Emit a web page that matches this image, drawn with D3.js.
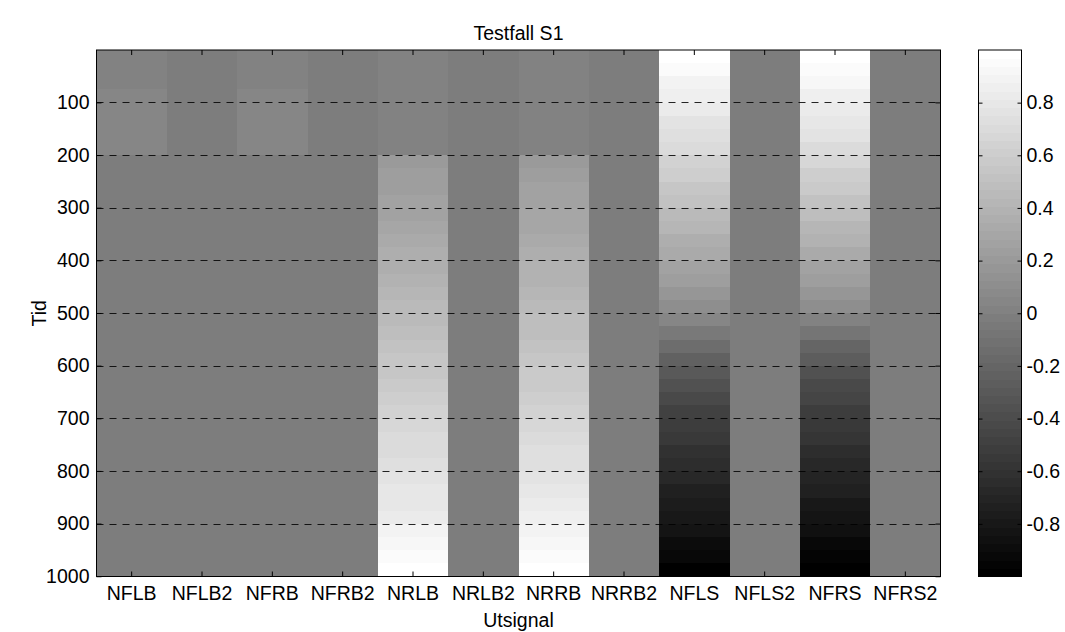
<!DOCTYPE html>
<html>
<head>
<meta charset="utf-8">
<script src="https://cdn.jsdelivr.net/npm/d3@7"></script>
<style>
  html, body { margin: 0; padding: 0; background: #fff; }
  svg { display: block; }
  text { font-family: "Liberation Sans", Arial, Helvetica, sans-serif; fill: #000; }
</style>
</head>
<body>
<svg id="chart" width="1065" height="632"></svg>
<script>
// Output signals (columns of the image)
const signals = ["NFLB", "NFLB2", "NFRB", "NFRB2", "NRLB", "NRLB2",
                 "NRRB", "NRRB2", "NFLS", "NFLS2", "NFRS", "NFRS2"];

// Each value covers a block of 25 time steps, starting at step 1
const blockSize = 25;

const NFLB  = [0.01,0.02,0.02,0.04,0.04,0.05,0.06,0.06,
               -0.01,-0.01,-0.01,-0.01,-0.01,-0.01,-0.01,-0.01, -0.01,-0.01,-0.01,-0.01,-0.01,-0.01,-0.01,-0.01,
               -0.01,-0.01,-0.01,-0.01,-0.01,-0.01,-0.01,-0.01, -0.01,-0.01,-0.01,-0.01,-0.01,-0.01,-0.01,-0.01];
const NFLB2 = [-0.01,-0.01,-0.01,-0.01,-0.01,-0.01,-0.01,-0.01, -0.01,-0.01,-0.01,-0.01,-0.01,-0.01,-0.01,-0.01,
               -0.01,-0.01,-0.01,-0.01,-0.01,-0.01,-0.01,-0.01, -0.01,-0.01,-0.01,-0.01,-0.01,-0.01,-0.01,-0.01,
               -0.01,-0.01,-0.01,-0.01,-0.01,-0.01,-0.01,-0.01];
const NFRB  = [0.01,0.02,0.03,0.04,0.04,0.05,0.06,0.06,
               -0.01,-0.01,-0.01,-0.01,-0.01,-0.01,-0.01,-0.01, -0.01,-0.01,-0.01,-0.01,-0.01,-0.01,-0.01,-0.01,
               -0.01,-0.01,-0.01,-0.01,-0.01,-0.01,-0.01,-0.01, -0.01,-0.01,-0.01,-0.01,-0.01,-0.01,-0.01,-0.01];
const NFRB2 = [-0.01,-0.01,-0.01,-0.01,-0.01,-0.01,-0.01,-0.01, -0.01,-0.01,-0.01,-0.01,-0.01,-0.01,-0.01,-0.01,
               -0.01,-0.01,-0.01,-0.01,-0.01,-0.01,-0.01,-0.01, -0.01,-0.01,-0.01,-0.01,-0.01,-0.01,-0.01,-0.01,
               -0.01,-0.01,-0.01,-0.01,-0.01,-0.01,-0.01,-0.01];
const NRLB  = [0.01,0.01,0.01,0.01,0.02,0.02,0.03,0.03,
               0.20,0.22,0.24,0.26,0.28,0.30,0.32,0.35,
               0.37,0.39,0.42,0.44,0.46,0.49,0.51,0.54,
               0.56,0.59,0.61,0.64,0.66,0.69,0.71,0.74,
               0.76,0.79,0.81,0.84,0.89,0.93,0.96,0.99];
const NRLB2 = [-0.01,-0.01,-0.01,-0.01,-0.01,-0.01,-0.01,-0.01, -0.01,-0.01,-0.01,-0.01,-0.01,-0.01,-0.01,-0.01,
               -0.01,-0.01,-0.01,-0.01,-0.01,-0.01,-0.01,-0.01, -0.01,-0.01,-0.01,-0.01,-0.01,-0.01,-0.01,-0.01,
               -0.01,-0.01,-0.01,-0.01,-0.01,-0.01,-0.01,-0.01];
const NRRB  = [0.01,0.01,0.01,0.02,0.02,0.02,0.03,0.03,
               0.21,0.23,0.25,0.27,0.29,0.31,0.33,0.35,
               0.38,0.40,0.42,0.45,0.47,0.49,0.52,0.54,
               0.57,0.59,0.62,0.64,0.67,0.69,0.72,0.74,
               0.77,0.80,0.82,0.85,0.89,0.93,0.96,0.99];
const NRRB2 = [-0.01,-0.01,-0.01,-0.01,-0.01,-0.01,-0.01,-0.01, -0.01,-0.01,-0.01,-0.01,-0.01,-0.01,-0.01,-0.01,
               -0.01,-0.01,-0.01,-0.01,-0.01,-0.01,-0.01,-0.01, -0.01,-0.01,-0.01,-0.01,-0.01,-0.01,-0.01,-0.01,
               -0.01,-0.01,-0.01,-0.01,-0.01,-0.01,-0.01,-0.01];
const NFLS  = [0.98,0.94,0.90,0.86,0.82,0.78,0.74,0.70,
               0.65,0.60,0.56,0.51,0.46,0.41,0.37,0.32,
               0.27,0.22,0.17,0.12,0.04,-0.05,-0.14,-0.23,
               -0.30,-0.36,-0.42,-0.47,-0.51,-0.55,-0.60,-0.64,
               -0.68,-0.72,-0.76,-0.80,-0.84,-0.88,-0.93,-0.98];
const NFLS2 = [-0.01,-0.01,-0.01,-0.01,-0.01,-0.01,-0.01,-0.01, -0.01,-0.01,-0.01,-0.01,-0.01,-0.01,-0.01,-0.01,
               -0.01,-0.01,-0.01,-0.01,-0.01,-0.01,-0.01,-0.01, -0.01,-0.01,-0.01,-0.01,-0.01,-0.01,-0.01,-0.01,
               -0.01,-0.01,-0.01,-0.01,-0.01,-0.01,-0.01,-0.01];
const NFRS  = [0.98,0.95,0.91,0.87,0.83,0.79,0.75,0.71,
               0.66,0.62,0.57,0.52,0.47,0.43,0.38,0.33,
               0.28,0.23,0.17,0.11,0.03,-0.08,-0.19,-0.28,
               -0.35,-0.41,-0.46,-0.51,-0.55,-0.59,-0.63,-0.67,
               -0.71,-0.75,-0.79,-0.83,-0.87,-0.91,-0.95,-0.99];
const NFRS2 = [-0.01,-0.01,-0.01,-0.01,-0.01,-0.01,-0.01,-0.01, -0.01,-0.01,-0.01,-0.01,-0.01,-0.01,-0.01,-0.01,
               -0.01,-0.01,-0.01,-0.01,-0.01,-0.01,-0.01,-0.01, -0.01,-0.01,-0.01,-0.01,-0.01,-0.01,-0.01,-0.01,
               -0.01,-0.01,-0.01,-0.01,-0.01,-0.01,-0.01,-0.01];

const seriesValues = [NFLB, NFLB2, NFRB, NFRB2, NRLB, NRLB2, NRRB, NRRB2, NFLS, NFLS2, NFRS, NFRS2];

const timeTicks = [100, 200, 300, 400, 500, 600, 700, 800, 900, 1000];
const colorTicks = [-0.8, -0.6, -0.4, -0.2, 0, 0.2, 0.4, 0.6, 0.8];
const colorLimits = [-1, 1];
const nTime = 1000;

const title = "Testfall S1";
const xTitle = "Utsignal";
const yTitle = "Tid";

// ---------------------------------------------------------------------------
const svg = d3.select("#chart");
const plot = { left: 96.5, right: 940.5, top: 50, bottom: 576.5 };
const cbar = { left: 978.5, right: 1021.5 };
const FONT = 19.5;

const x = d3.scaleBand().domain(signals).range([plot.left, plot.right]).paddingInner(0).paddingOuter(0);
const y = d3.scaleLinear().domain([0.5, nTime + 0.5]).range([plot.top, plot.bottom]);

// 64-step gray colormap
const nLevels = 64;
const grays = d3.range(nLevels).map(i => {
  const g = Math.round(i / (nLevels - 1) * 255);
  return d3.rgb(g, g, g).formatHex();
});
const color = d3.scaleQuantize().domain(colorLimits).range(grays);

// Image cells
const cells = [];
signals.forEach((s, ci) => {
  seriesValues[ci].forEach((v, bi) => {
    const start = 1 + bi * blockSize;
    cells.push({ s, v, t0: start - 0.5, t1: Math.min(start + blockSize - 0.5, nTime + 0.5) });
  });
});

svg.append("g")
  .selectAll("rect")
  .data(cells)
  .join("rect")
  .attr("x", d => x(d.s))
  .attr("width", x.bandwidth() + 0.5)
  .attr("y", d => y(d.t0))
  .attr("height", d => y(d.t1) - y(d.t0) + 0.5)
  .attr("fill", d => color(d.v))
  .attr("shape-rendering", "crispEdges");

// Dashed horizontal grid
svg.append("g")
  .selectAll("line")
  .data(timeTicks)
  .join("line")
  .attr("x1", plot.left).attr("x2", plot.right)
  .attr("y1", d => Math.round(y(d)) + 0.5).attr("y2", d => Math.round(y(d)) + 0.5)
  .attr("stroke", "#000")
  .attr("stroke-opacity", 0.85)
  .attr("stroke-width", 1)
  .attr("stroke-dasharray", "7,6");

// Axes (inward ticks, boxed)
const tickLen = 5;
const yAxisL = d3.axisLeft(y).tickValues(timeTicks).tickFormat(d3.format("d"))
  .tickSizeInner(-tickLen).tickSizeOuter(0).tickPadding(7);
const yAxisR = d3.axisRight(y).tickValues(timeTicks).tickSizeInner(-tickLen).tickSizeOuter(0).tickFormat("");
const xAxisB = d3.axisBottom(x).tickSizeInner(-tickLen).tickSizeOuter(0).tickPadding(10);
const xAxisT = d3.axisTop(x).tickSizeInner(-tickLen).tickSizeOuter(0).tickFormat("");

function styleAxis(g) {
  g.select(".domain").remove();
  g.selectAll(".tick line").attr("stroke", "#000");
  g.selectAll(".tick text").attr("font-size", FONT).attr("fill", "#000")
    .attr("font-family", '"Liberation Sans", Arial, sans-serif');
}

svg.append("g").attr("transform", `translate(${plot.left},0)`).call(yAxisL).call(styleAxis);
svg.append("g").attr("transform", `translate(${plot.right},0)`).call(yAxisR).call(styleAxis);
svg.append("g").attr("transform", `translate(0,${plot.bottom})`).call(xAxisB).call(styleAxis);
svg.append("g").attr("transform", `translate(0,${plot.top})`).call(xAxisT).call(styleAxis);

// Plot frame
svg.append("rect")
  .attr("x", plot.left).attr("y", plot.top)
  .attr("width", plot.right - plot.left).attr("height", plot.bottom - plot.top)
  .attr("fill", "none").attr("stroke", "#000").attr("stroke-width", 1);

// Titles
svg.append("text").attr("x", (plot.left + plot.right) / 2).attr("y", 40)
  .attr("text-anchor", "middle").attr("font-size", FONT).text(title);
svg.append("text").attr("x", (plot.left + plot.right) / 2).attr("y", 627)
  .attr("text-anchor", "middle").attr("font-size", FONT).text(xTitle);
svg.append("text")
  .attr("transform", `translate(46,${(plot.top + plot.bottom) / 2}) rotate(-90)`)
  .attr("text-anchor", "middle").attr("font-size", FONT).text(yTitle);

// Colorbar
const cy = d3.scaleLinear().domain(colorLimits).range([plot.bottom, plot.top]);
const cbarBands = d3.range(nLevels).map(i => ({
  lo: colorLimits[0] + i * (colorLimits[1] - colorLimits[0]) / nLevels,
  hi: colorLimits[0] + (i + 1) * (colorLimits[1] - colorLimits[0]) / nLevels,
  c: grays[i]
}));
svg.append("g")
  .selectAll("rect")
  .data(cbarBands)
  .join("rect")
  .attr("x", cbar.left).attr("width", cbar.right - cbar.left)
  .attr("y", d => cy(d.hi)).attr("height", d => cy(d.lo) - cy(d.hi) + 0.5)
  .attr("fill", d => d.c)
  .attr("shape-rendering", "crispEdges");

const cAxisR = d3.axisRight(cy).tickValues(colorTicks).tickSizeInner(-4).tickSizeOuter(0).tickPadding(5)
  .tickFormat(d => String(+d.toFixed(1)));
const cAxisL = d3.axisLeft(cy).tickValues(colorTicks).tickSizeInner(-4).tickSizeOuter(0).tickFormat("");
svg.append("g").attr("transform", `translate(${cbar.right},0)`).call(cAxisR).call(styleAxis);
svg.append("g").attr("transform", `translate(${cbar.left},0)`).call(cAxisL).call(styleAxis);
svg.append("rect")
  .attr("x", cbar.left).attr("y", plot.top)
  .attr("width", cbar.right - cbar.left).attr("height", plot.bottom - plot.top)
  .attr("fill", "none").attr("stroke", "#000").attr("stroke-width", 1);
</script>
</body>
</html>
